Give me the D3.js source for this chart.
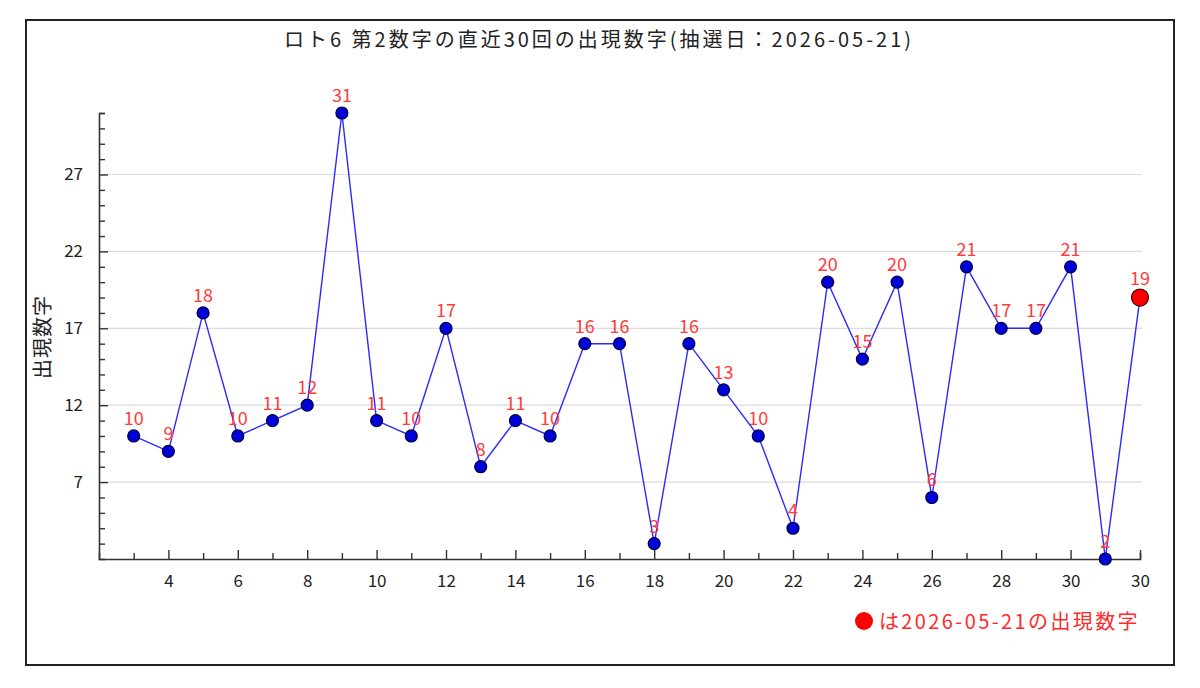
<!DOCTYPE html>
<html>
<head>
<meta charset="utf-8">
<script src="https://cdn.jsdelivr.net/npm/d3@7"></script>
<style>
  body { margin: 0; background: #fff; }
  text { font-family: "Noto Sans CJK JP", "DejaVu Sans", sans-serif; }
</style>
</head>
<body>
<svg id="chart"></svg>
<script>
// ロト6 第2数字 - last 30 draws
const values = [10, 9, 18, 10, 11, 12, 31, 11, 10, 17, 8, 11, 10, 16, 16, 3, 16, 13, 10, 4, 20, 15, 20, 6, 21, 17, 17, 21, 2, 19]
const xLabels = ["", "4", "", "6", "", "8", "", "10", "", "12", "", "14", "", "16", "", "18", "", "20", "", "22", "", "24", "", "26", "", "28", "", "30", "", "30"]
const yTicks = [7, 12, 17, 22, 27]
const title = "ロト6 第2数字の直近30回の出現数字(抽選日：2026-05-21)"
const yTitle = "出現数字"
const legendText = "は2026-05-21の出現数字"

const width = 1200
const height = 688

const svg = d3.select("#chart")
    .attr("width", width)
    .attr("height", height)

// frame
svg.append("rect")
    .attr("x", 26).attr("y", 20)
    .attr("width", 1148).attr("height", 645)
    .attr("fill", "#fff")
    .attr("stroke", "#222")
    .attr("stroke-width", 2)

var x = d3.scaleLinear().domain([0, values.length]).range([99, 1140])
var y = d3.scaleLinear().domain([2, 31]).range([559, 113])

// gridlines at the labelled y ticks
svg.append("g")
    .selectAll("line")
    .data(yTicks)
    .enter()
    .append("line")
    .attr("x1", x(0)).attr("x2", x(values.length) + 2)
    .attr("y1", d => y(d)).attr("y2", d => y(d))
    .attr("stroke", "#dcdcdc")
    .attr("stroke-width", 1.2)

// y axis: minor tick every unit, labels on yTicks
var yAxis = d3.axisRight(y)
    .tickValues(d3.range(3, 32))
    .tickSize(6)
    .tickFormat(d => yTicks.includes(d) ? d : "")
var gy = svg.append("g")
    .attr("transform", `translate(${x(0)},0)`)
    .call(yAxis)
gy.select(".domain").attr("stroke", "#333").attr("stroke-width", 1.6)
gy.selectAll(".tick line")
    .attr("x2", d => yTicks.includes(d) ? 9 : 6)
    .attr("stroke", "#333").attr("stroke-width", 1.4)
gy.selectAll(".tick text")
    .attr("x", -16)
    .attr("text-anchor", "end")
    .attr("fill", "#222")
    .style("font-size", "17px")

// x axis: tick on every draw, ticks pointing up
var xAxis = d3.axisBottom(x)
    .tickValues(d3.range(1, values.length + 1))
    .tickSize(-6)
    .tickFormat(d => xLabels[d - 1])
var gx = svg.append("g")
    .attr("transform", `translate(0,${y(2)})`)
    .call(xAxis)
gx.select(".domain").attr("stroke", "#333").attr("stroke-width", 1.6)
gx.selectAll(".tick line")
    .attr("y2", d => xLabels[d - 1] ? -9 : -6)
    .attr("stroke", "#333").attr("stroke-width", 1.4)
gx.selectAll(".tick text")
    .attr("y", 16)
    .attr("fill", "#222")
    .style("font-size", "17px")

// line
svg.append("path")
    .datum(values)
    .attr("fill", "none")
    .attr("stroke", "#2a2aff")
    .attr("stroke-width", 1.4)
    .attr("d", d3.line().x((d, i) => x(i + 1)).y(d => y(d)))

// points, the latest one in red
var last = values.length - 1
svg.append("g")
    .selectAll("circle")
    .data(values)
    .enter()
    .append("circle")
    .attr("cx", (d, i) => x(i + 1))
    .attr("cy", d => y(d))
    .attr("r", (d, i) => i == last ? 8.5 : 6)
    .attr("fill", (d, i) => i == last ? "#ff0000" : "#0000d8")
    .attr("stroke", (d, i) => i == last ? "#440000" : "#000040")
    .attr("stroke-width", 1.2)

// value labels
svg.append("g")
    .selectAll("text")
    .data(values)
    .enter()
    .append("text")
    .attr("x", (d, i) => x(i + 1))
    .attr("y", (d, i) => y(d) - (i == last ? 13 : 11))
    .attr("text-anchor", "middle")
    .attr("fill", "#ff3b3b")
    .style("font-size", "18px")
    .text(d => d)

// title
svg.append("text")
    .attr("x", 599).attr("y", 47)
    .attr("text-anchor", "middle")
    .attr("fill", "#222")
    .style("font-size", "20px")
    .style("letter-spacing", "3px")
    .text(title)

// y title
svg.append("text")
    .attr("transform", "translate(50,337) rotate(-90)")
    .attr("text-anchor", "middle")
    .attr("fill", "#222")
    .style("font-size", "20px")
    .style("letter-spacing", "1px")
    .text(yTitle)

// legend
svg.append("circle")
    .attr("cx", 864).attr("cy", 621)
    .attr("r", 9)
    .attr("fill", "#ff0000")
svg.append("text")
    .attr("x", 1140).attr("y", 629)
    .attr("text-anchor", "end")
    .attr("fill", "#ff2a2a")
    .style("font-size", "20px")
    .style("letter-spacing", "2.4px")
    .text(legendText)
</script>
</body>
</html>
